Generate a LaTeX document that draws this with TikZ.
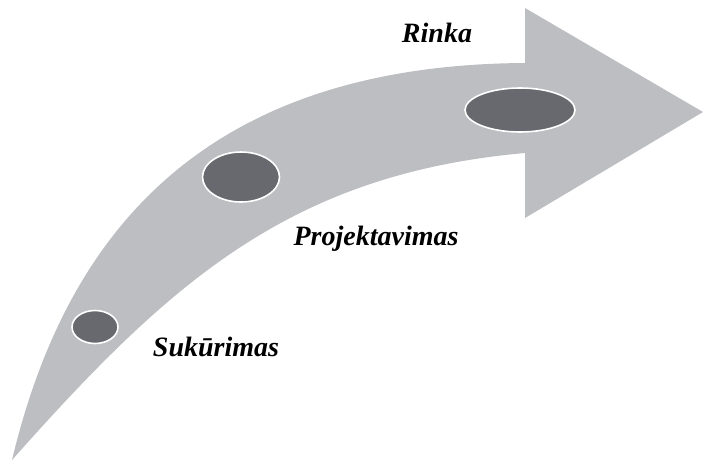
\documentclass[tikz,border=0pt]{standalone}
\usepackage{fontspec}
\setmainfont{Liberation Serif}
\usepackage{tikz}
\usetikzlibrary{shapes.geometric}
\definecolor{bandgray}{RGB}{189,190,193}
\definecolor{spotgray}{RGB}{104,105,110}
\tikzset{
  spot/.style={ellipse, fill=spotgray, draw=white, line width=1.6pt, inner sep=0pt},
  stage/.style={font=\fontsize{28}{32}\selectfont\bfseries\itshape, anchor=base, inner sep=0pt}
}

\begin{document}
\begin{tikzpicture}[x=1pt, y=-1pt]
\useasboundingbox (0,0) rectangle (703,461);
% curved band with arrow head
\fill[bandgray] (12,460) .. controls (60,260) and (180,65) .. (525,63)
    -- (525,8) -- (703,112) -- (525,218) -- (525,153)
    .. controls (290,174) and (170,282) .. (12,460) -- cycle;
% stages
\node[spot, minimum width=46pt, minimum height=33pt] (s1) at (95,327) {};
\node[spot, minimum width=77pt, minimum height=50pt] (s2) at (241,177) {};
\node[spot, minimum width=110pt, minimum height=44pt] (s3) at (520,110) {};
\node[stage] (sukurimas) at (216,356) {Sukūrimas};
\node[stage] (projektavimas) at (376,245) {Projektavimas};
\node[stage] (rinka) at (437,42) {Rinka};
\end{tikzpicture}
\end{document}
